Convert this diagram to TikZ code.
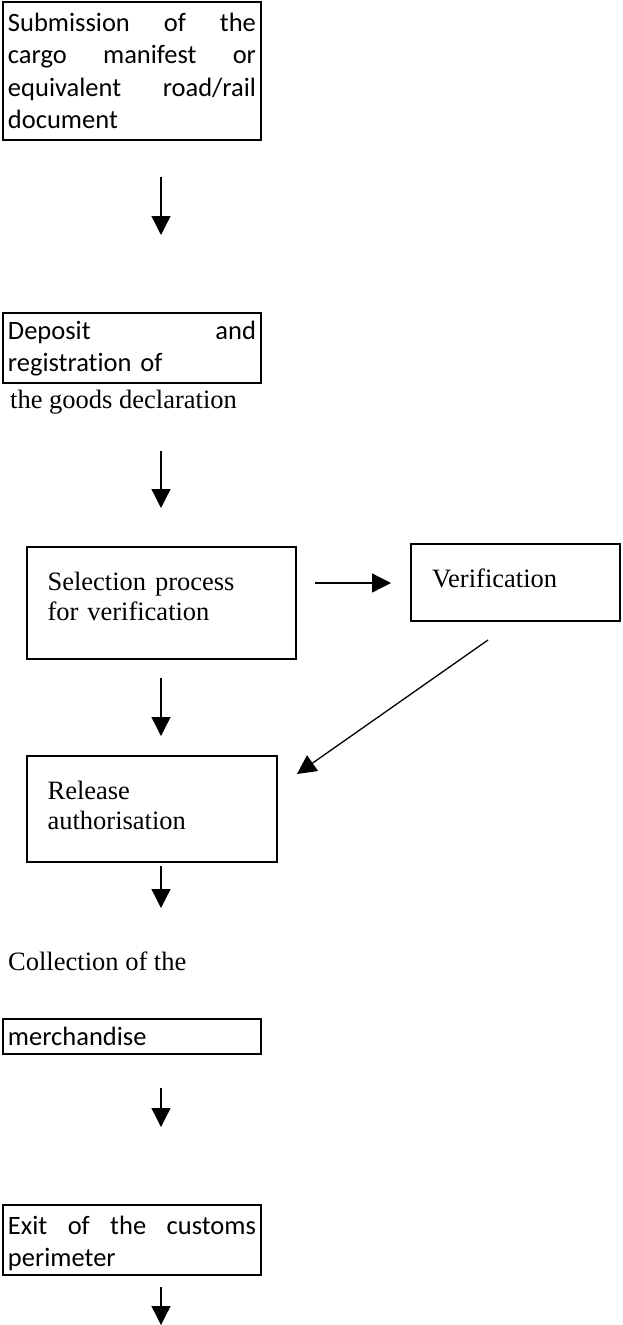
\documentclass[tikz,border=0pt]{standalone}
\usepackage{fontspec}
\setmainfont{Liberation Serif}
\newfontfamily\carlito[Ligatures=NoCommon]{Carlito}
\usetikzlibrary{arrows.meta}
\tikzset{
  cbox/.style={draw, line width=2pt, outer sep=0pt, anchor=north west, inner ysep=0pt, inner xsep=5pt, align=left, font=\carlito\fontsize{26.5}{32.5}\selectfont},
  tbox/.style={draw, line width=1.2pt, outer sep=0pt, anchor=north west, inner ysep=0pt, inner xsep=20.6pt, align=left, font=\fontsize{26.5}{30}\selectfont},
  ftext/.style={anchor=base west, inner sep=0pt, font=\fontsize{26.5}{30}\selectfont},
  arr/.style={line width=1.3pt, -{Triangle[length=19pt,width=19pt]}}
}
\begin{document}
\begin{tikzpicture}[x=1pt,y=-1pt]
\useasboundingbox (0,0) rectangle (622,1325);
% boxes
\node[cbox, text width=248pt] (sub) at (3,1.5) {\noindent\rule{0pt}{29.5pt}Submission\hfill of\hfill the\\
cargo\hfill manifest\hfill or\\
equivalent\hfill road/rail\\
document\rule[-11pt]{0pt}{11pt}};
\node[cbox, text width=248pt] (dep) at (3,313) {\noindent\rule{0pt}{26pt}Deposit\hfill and\\
registration of\rule[-11.5pt]{0pt}{11.5pt}};
\node[ftext] (gd) at (10,408) {the goods declaration};
\node[tbox, text width=227.8pt] (sel) at (27,547) {\noindent\rule{0pt}{43pt}Selection process\\
for verification\rule[-39pt]{0pt}{39pt}};
\node[tbox, inner xsep=21pt, text width=167pt] (ver) at (411,544) {\noindent\rule{0pt}{43pt}Verification\rule[-34pt]{0pt}{34pt}};
\node[tbox, text width=208.8pt] (rel) at (27,756) {\noindent\rule{0pt}{43pt}Release\\
authorisation\rule[-33pt]{0pt}{33pt}};
\node[ftext] (col) at (8,970) {Collection of the};
\node[cbox, text width=248pt] (mer) at (3,1019) {\noindent\rule{0pt}{26pt}merchandise\rule[-9pt]{0pt}{9pt}};
\node[cbox, text width=248pt] (exi) at (3,1205) {\noindent\rule{0pt}{29pt}Exit\hfill of\hfill the\hfill customs\\
perimeter\rule[-8.5pt]{0pt}{8.5pt}};
% arrow ends
\coordinate (a1s) at (161,177);  \coordinate (a1e) at (161,235);
\coordinate (a2s) at (161,451);  \coordinate (a2e) at (161,508);
\coordinate (a3s) at (161,678);  \coordinate (a3e) at (161,736);
\coordinate (a4s) at (161,866);  \coordinate (a4e) at (161,908);
\coordinate (a5s) at (161,1088); \coordinate (a5e) at (161,1127);
\coordinate (a6s) at (161,1287); \coordinate (a6e) at (161,1325);
\coordinate (ahs) at (315,583);  \coordinate (ahe) at (391,583);
\coordinate (ads) at (488,640);  \coordinate (ade) at (297,774);
\draw[arr] (a1s) -- (a1e);
\draw[arr] (a2s) -- (a2e);
\draw[arr] (a3s) -- (a3e);
\draw[arr] (a4s) -- (a4e);
\draw[arr] (a5s) -- (a5e);
\draw[arr] (a6s) -- (a6e);
\draw[arr] (ahs) -- (ahe);
\draw[arr] (ads) -- (ade);
\end{tikzpicture}
\end{document}
